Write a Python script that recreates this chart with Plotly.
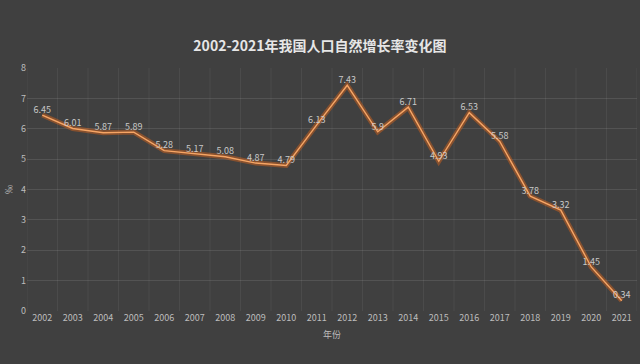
import plotly.graph_objects as go

years = [str(y) for y in range(2002, 2022)]
rates = [6.45, 6.01, 5.87, 5.89, 5.28, 5.17, 5.08, 4.87, 4.79, 6.13,
         7.43, 5.9, 6.71, 4.93, 6.53, 5.58, 3.78, 3.32, 1.45, 0.34]
labels = ["6.45", "6.01", "5.87", "5.89", "5.28", "5.17", "5.08", "4.87", "4.79", "6.13",
          "7.43", "5.9", "6.71", "4.93", "6.53", "5.58", "3.78", "3.32", "1.45", "0.34"]

font = "Noto Sans CJK SC, Noto Sans, sans-serif"
fig = go.Figure()
# glow
fig.add_trace(go.Scatter(x=years, y=rates, mode="lines",
                         line=dict(color="rgba(220,100,25,0.45)", width=5),
                         hoverinfo="skip", showlegend=False))
fig.add_trace(go.Scatter(x=years, y=rates, mode="lines+text",
                         line=dict(color="#f6a565", width=1.4),
                         text=labels, textposition="top center",
                         textfont=dict(size=9, color="#c8c8c8", family=font),
                         showlegend=False))

fig.update_layout(
    width=640, height=364,
    paper_bgcolor="#404040", plot_bgcolor="#404040",
    margin=dict(l=27, r=3, t=68, b=53),
    title=dict(text="<b>2002-2021年我国人口自然增长率变化图</b>", x=0.5, xanchor="center",
               y=1 - 46/364, yanchor="middle",
               font=dict(size=14, color="#e6e6e6", family=font)),
    font=dict(family=font, color="#bdbdbd", size=9),
)
fig.update_xaxes(type="category", range=[-0.5, 19.5],
                 showgrid=False, zeroline=False, showline=False,
                 ticks="", tickfont=dict(size=9, color="#bdbdbd"),
                 title=dict(text="年份", font=dict(size=9, color="#bdbdbd"), standoff=8))
fig.update_yaxes(range=[0, 8], dtick=1, showgrid=True,
                 gridcolor="rgba(255,255,255,0.10)", gridwidth=1,
                 zeroline=False, showline=False, ticks="",
                 tickfont=dict(size=9, color="#bdbdbd"),
                 title=dict(text="‰", font=dict(size=9, color="#bdbdbd"), standoff=6))
# faint vertical grid between categories
for i in range(21):
    fig.add_shape(type="line", xref="x", yref="paper", x0=i - 0.5, x1=i - 0.5, y0=0, y1=1,
                  line=dict(color="rgba(255,255,255,0.06)", width=1), layer="below")

fig.write_html("out.html", config={"displayModeBar": False},
               post_script="document.body.style.margin='0';document.body.style.background='#404040';")
